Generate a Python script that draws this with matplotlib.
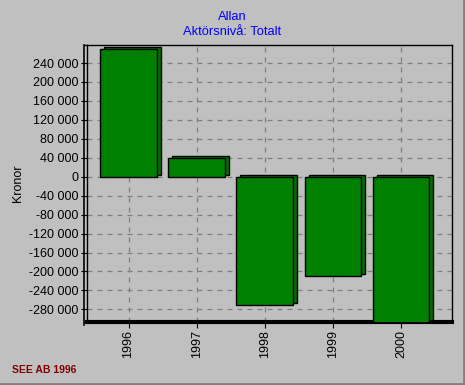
import matplotlib
matplotlib.use("Agg")
import matplotlib.pyplot as plt
import matplotlib.transforms as mtransforms
from matplotlib.lines import Line2D

years = ["1996", "1997", "1998", "1999", "2000"]
kronor = [269500, 39500, -271500, -210000, -330000]
yticks = list(range(-280000, 240001, 40000))

plt.rcParams["font.family"] = ["Liberation Sans", "DejaVu Sans"]
bg = "#c0c0c0"

fig = plt.figure(figsize=(4.65, 3.85), dpi=100, facecolor=bg)
ax = fig.add_axes([87 / 465, 63 / 385, 365 / 465, 277 / 385])
ax.set_facecolor(bg)

x = list(range(len(years)))
w = 0.83
# 3D-ish side/top face: same bar shifted a few pixels up-right
shift = mtransforms.ScaledTranslation(4 / 100, 2 / 100, fig.dpi_scale_trans)
ax.bar(x, kronor, width=w, color="#007000", edgecolor="black", linewidth=1,
       transform=ax.transData + shift, zorder=2)
ax.bar(x, kronor, width=w, color="#008000", edgecolor="black", linewidth=1, zorder=3)

ax.set_xlim(-0.61, 4.75)
ax.set_ylim(-306700, 278000)
ax.set_yticks(yticks)
ax.set_yticklabels([f"{v:,}".replace(",", " ") for v in yticks], fontsize=9)
ax.set_xticks(x)
ax.set_xticklabels(years, rotation=90, fontsize=9)
ax.tick_params(direction="out", length=4, width=0.8, color="black", pad=2)
ax.grid(True, color="#808080", linestyle=(0, (4, 4)), linewidth=0.9, zorder=0)
ax.set_axisbelow(True)

for s in ["top", "right", "left"]:
    ax.spines[s].set_linewidth(1)
ax.spines["bottom"].set_linewidth(3)

# outer left line of the frame
fig.add_artist(Line2D([83.5 / 465, 83.5 / 465], [60 / 385, 340 / 385], color="black", lw=1.2))
fig.add_artist(Line2D([83.5 / 465, 87 / 465], [340 / 385, 340 / 385], color="black", lw=1))

ax.set_ylabel("Kronor", fontsize=9, labelpad=4)

fig.text(232 / 465, 1 - 17 / 385, "Allan", color="#0000ff", fontsize=9.3, ha="center", va="center")
fig.text(232 / 465, 1 - 32 / 385, "Aktörsnivå: Totalt", color="#0000ff", fontsize=9.3,
         ha="center", va="center")
fig.text(12 / 465, 1 - 370 / 385, "SEE AB 1996", color="#800000", fontsize=7.5,
         fontweight="bold", ha="left", va="center")

# window border
fig.add_artist(Line2D([0, 1], [0.002, 0.002], color="#808080", lw=2))
fig.add_artist(Line2D([0.998, 0.998], [0, 1], color="#808080", lw=2))

fig.savefig("out.png", dpi=100, facecolor=bg)
